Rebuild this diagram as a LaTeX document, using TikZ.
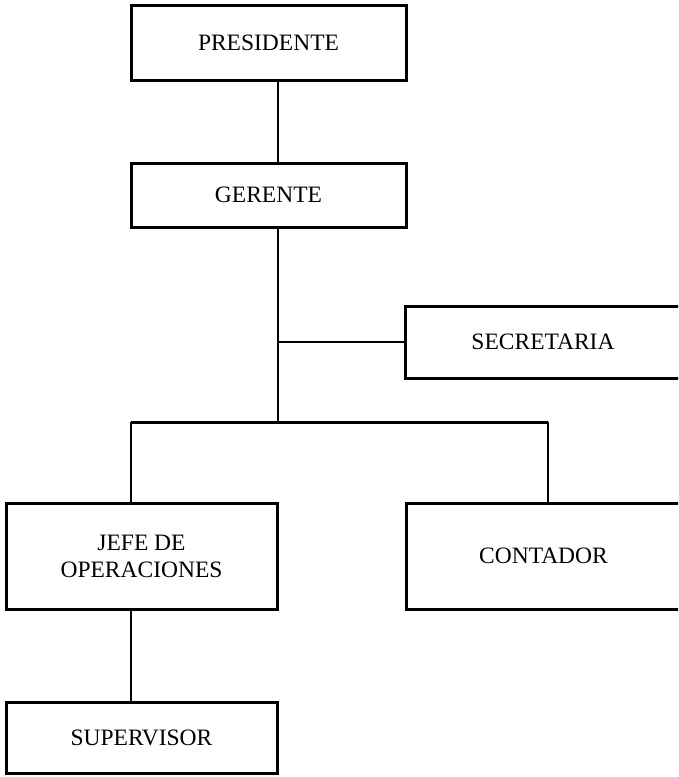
\documentclass[tikz,border=0pt]{standalone}
\usepackage{fontspec}
\setmainfont{Liberation Serif}
\usetikzlibrary{calc}
\begin{document}
\begin{tikzpicture}[x=1pt,y=-1pt,
  orgbox/.style={draw=black,line width=3pt,rectangle,inner sep=0pt,align=center,
    font=\fontsize{23.5}{27}\selectfont},
  link/.style={draw=black,line width=2.4pt},
  bar/.style={draw=black,line width=3pt}]
  \useasboundingbox (0,0) rectangle (678,777);
  \clip (0,0) rectangle (678,777);
  \fill[white] (0,0) rectangle (678,777);

  % boxes
  \node[orgbox,minimum width=275pt,minimum height=75pt] (pres) at (268.5,42.5) {PRESIDENTE};
  \node[orgbox,minimum width=275pt,minimum height=64pt] (ger) at (268.5,195) {GERENTE};
  \node[orgbox,minimum width=276pt,minimum height=72pt] (sec) at (543,342) {SECRETARIA};
  \node[orgbox,minimum width=271pt,minimum height=106pt] (jefe) at (141.5,556.5) {JEFE DE\\OPERACIONES};
  \node[orgbox,minimum width=275pt,minimum height=106pt] (cont) at (543.5,556) {CONTADOR};
  \node[orgbox,minimum width=271pt,minimum height=71pt] (sup) at (141.5,737.5) {SUPERVISOR};

  % junction points of the tree
  \coordinate (hub) at (278,422);
  \coordinate (lft) at (131,422);
  \coordinate (rgt) at (548,422);

  % connectors
  \draw[link] (pres.south -| hub) -- (ger.north -| hub);
  \draw[link] (ger.south -| hub) -- (hub);
  \draw[link] (sec.west -| hub) -- (sec.west);
  \draw[bar] (lft) -- (rgt);
  \draw[link] (lft) -- (lft |- jefe.north);
  \draw[link] (rgt) -- (rgt |- cont.north);
  \draw[link] (jefe.south -| lft) -- (sup.north -| lft);
\end{tikzpicture}
\end{document}
